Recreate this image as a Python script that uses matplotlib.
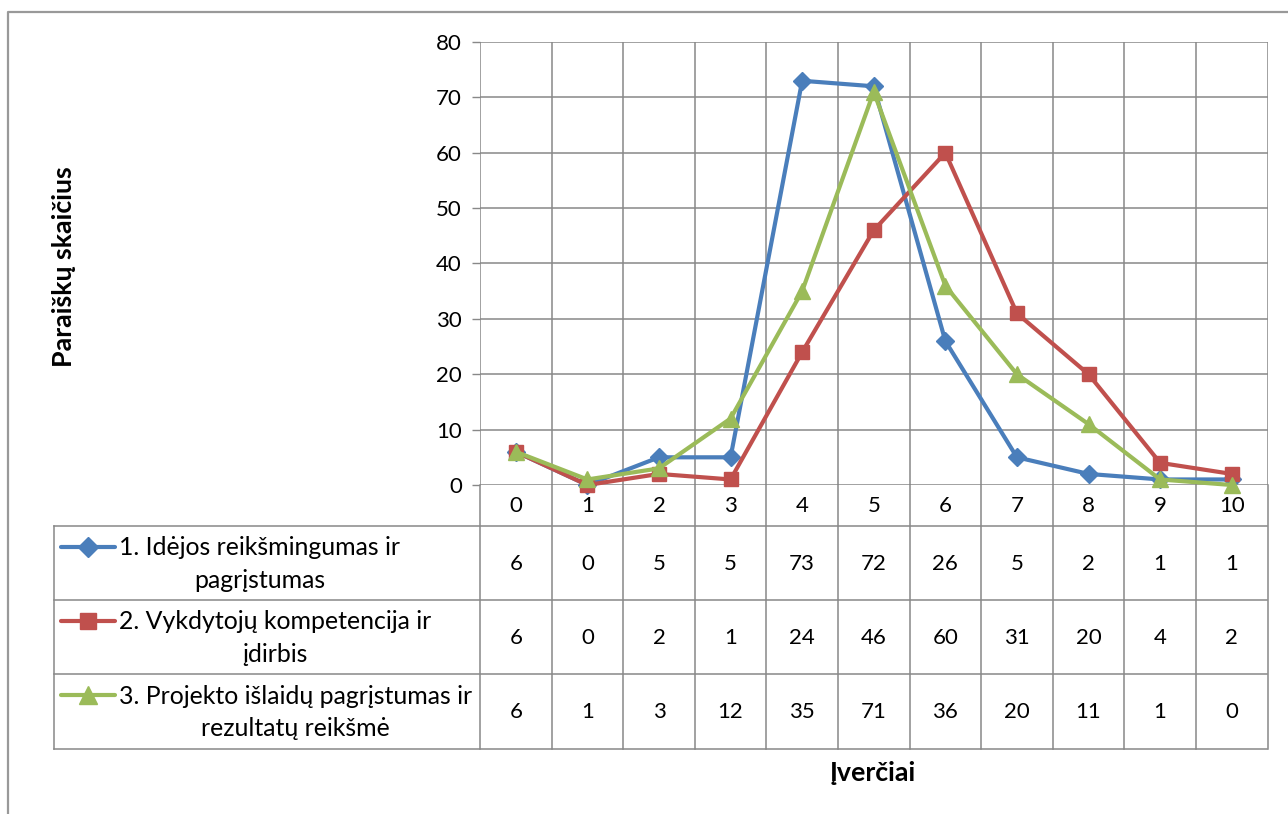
import matplotlib
matplotlib.use("Agg")
import matplotlib.pyplot as plt
import matplotlib.transforms as mtrans

categories = ["0", "1", "2", "3", "4", "5", "6", "7", "8", "9", "10"]
series_names = [
    "1. Idėjos reikšmingumas ir\npagrįstumas",
    "2. Vykdytojų kompetencija ir\nįdirbis",
    "3. Projekto išlaidų pagrįstumas ir\nrezultatų reikšmė",
]
s1 = [6, 0, 5, 5, 73, 72, 26, 5, 2, 1, 1]
s2 = [6, 0, 2, 1, 24, 46, 60, 31, 20, 4, 2]
s3 = [6, 1, 3, 12, 35, 71, 36, 20, 11, 1, 0]
series = [s1, s2, s3]
colors = ["#4A7EBB", "#C0504D", "#9BBB59"]
markers = ["D", "s", "^"]
msizes = [9, 10, 12]
y_ticks = [0, 10, 20, 30, 40, 50, 60, 70, 80]
y_title = "Paraiškų skaičius"
x_title = "Įverčiai"

plt.rcParams["font.family"] = ["Lato", "DejaVu Sans"]
W, H = 1288, 814
fig = plt.figure(figsize=(W / 100, H / 100), dpi=100)

NUM_FS = 16
TXT_FS = 17.9
TITLE_FS = 19.3

GRID = "#888888"
L, R, T, B = 480, 1267.5, 42, 485
ax = fig.add_axes([L / W, 1 - B / H, (R - L) / W, (B - T) / H])
ax.patch.set_visible(False)
n = len(categories)
xs = list(range(n))
ax.set_xlim(-0.5, n - 0.5)
ax.set_ylim(0, 80)
ax.set_yticks(y_ticks)
ax.set_yticklabels([str(v) for v in y_ticks], fontsize=NUM_FS)
ax.tick_params(axis="y", length=6, width=1, color=GRID, pad=7)
ax.set_xticks([])
for v in y_ticks:
    ax.axhline(v, color=GRID, lw=1.1, zorder=1)
for i in range(n + 1):
    ax.axvline(i - 0.5, color=GRID, lw=1.1, zorder=1)
for sp in ax.spines.values():
    sp.set_visible(False)

for vals, c, m, ms in zip(series, colors, markers, msizes):
    ax.plot(xs, vals, color=c, lw=3.0, marker=m, markersize=ms,
            markerfacecolor=c, markeredgecolor=c, zorder=3, clip_on=False)

# overlay in pixel coordinates
ov = fig.add_axes([0, 0, 1, 1], zorder=5)
ov.set_xlim(0, W)
ov.set_ylim(H, 0)
ov.axis("off")
ov.patch.set_visible(False)

bt = mtrans.blended_transform_factory(ax.transData, ov.transData)

# outer chart border
ov.plot([8, 8, W], [H, 12, 12], color="#999999", lw=1.6, solid_capstyle="butt")

# table lines
row_y = [526, 600, 674, 749]
for y in row_y:
    ov.plot([54, R], [y, y], color=GRID, lw=1.1)
ov.plot([54, 54], [526, 749], color=GRID, lw=1.1)
for i in range(n + 1):
    ov.plot([i - 0.5, i - 0.5], [B, 749], color=GRID, lw=1.1, transform=bt)

# header (category labels)
for i, c in enumerate(categories):
    ov.text(i, (B + 526) / 2 + 1, c, ha="center", va="center", fontsize=NUM_FS, transform=bt)

# rows
for r, (vals, name, c, m, ms) in enumerate(zip(series, series_names, colors, markers, msizes)):
    y0, y1 = row_y[r], row_y[r + 1]
    yc = (y0 + y1) / 2
    for i, v in enumerate(vals):
        ov.text(i, yc + 1, str(v), ha="center", va="center", fontsize=NUM_FS, transform=bt)
    ov.text(119, yc + 1, name, ha="left", va="center", multialignment="center",
            fontsize=TXT_FS, linespacing=1.5)
    ly = y0 + 21
    ov.plot([61, 115], [ly, ly], color=c, lw=3.0, solid_capstyle="round")
    ov.plot([88], [ly], marker=m, markersize=ms + 1, color=c)

# axis titles
ov.text(64, 267, y_title, rotation=90, ha="center", va="center", fontsize=TITLE_FS, fontweight="bold")
ov.text(873, 773, x_title, ha="center", va="center", fontsize=TITLE_FS, fontweight="bold")

fig.savefig("out.png", dpi=100)
